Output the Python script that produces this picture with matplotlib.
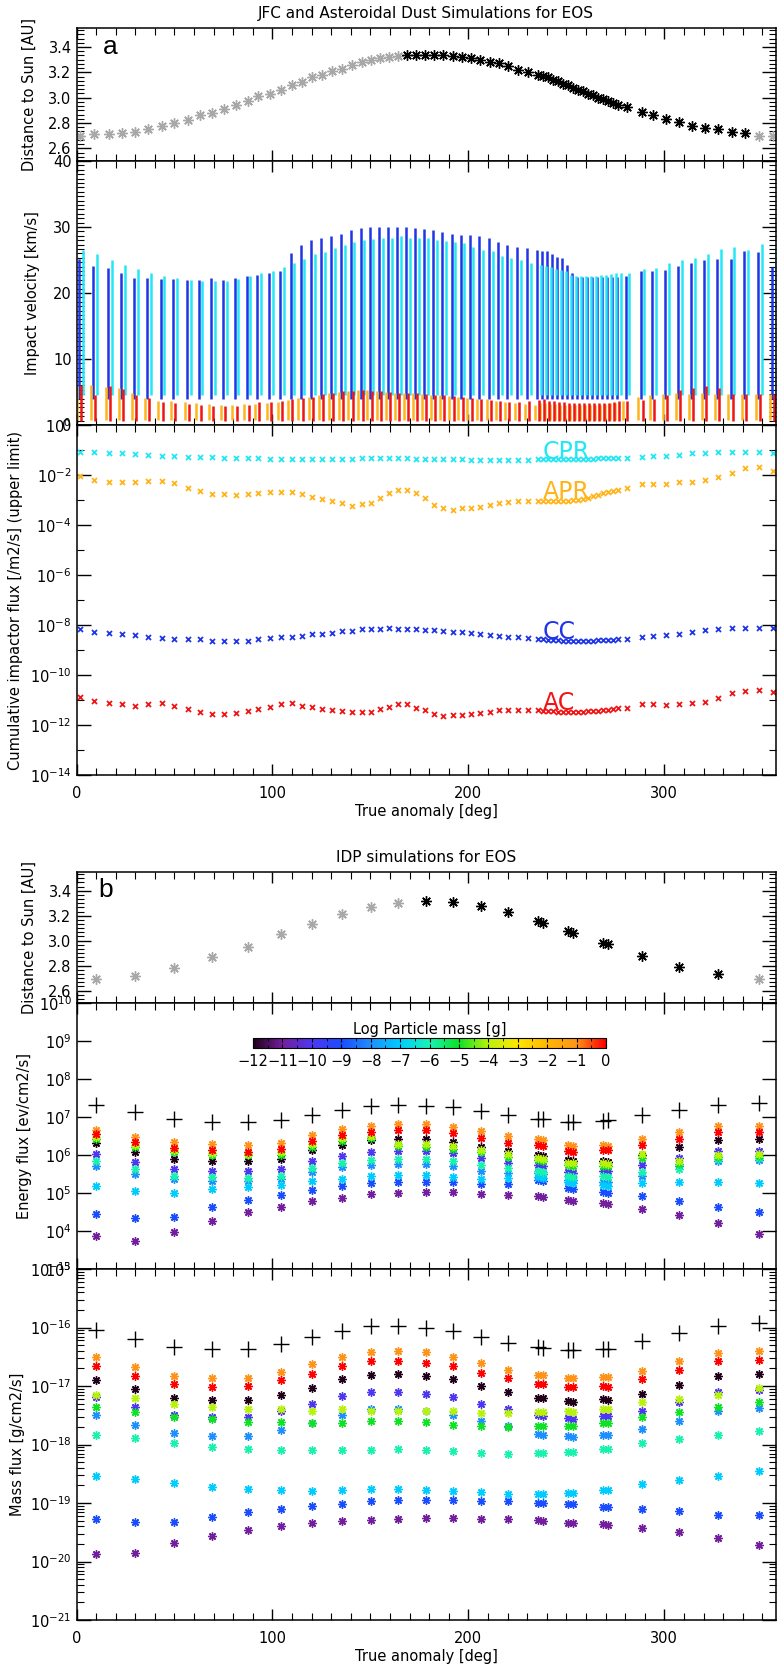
import matplotlib
matplotlib.use('Agg')
import matplotlib.pyplot as plt
import numpy as np
from matplotlib.colors import LinearSegmentedColormap, Normalize
from matplotlib.cm import ScalarMappable
from matplotlib.ticker import MultipleLocator, FixedLocator, AutoMinorLocator, NullLocator, NullFormatter
from matplotlib.transforms import ScaledTranslation

# ---------------- panel a : JFC / asteroidal dust, one value per time step
nu_a = [1.8, 9.1, 16.6, 23.4, 29.9, 36.7, 43.5, 49.9, 57.1, 63.0,
        69.3, 75.4, 81.4, 87.4, 92.8, 98.8, 104.4, 109.8, 115.0, 120.4,
        125.5, 130.6, 135.7, 140.5, 145.6, 150.2, 154.9, 159.7, 164.3,
        168.9, 173.3, 177.9, 182.7, 187.2, 192.0, 196.6, 201.2, 206.0, 211.1,
        215.7, 220.4, 225.5, 230.6, 235.7,
        238.3, 240.8, 243.4, 245.9, 248.5, 251.0, 253.6, 256.1, 258.7, 261.2,
        263.8, 266.4, 268.9, 271.5, 274.0, 276.6,
        280.8, 288.5, 294.4, 300.9, 307.5, 314.3, 320.8, 327.6, 334.4, 341.2, 348.4, 355.7]
dist_a = [2.70, 2.71, 2.71, 2.72, 2.73, 2.75, 2.78, 2.80, 2.82, 2.86,
          2.88, 2.91, 2.94, 2.97, 3.01, 3.03, 3.06, 3.10, 3.12, 3.16,
          3.18, 3.21, 3.23, 3.26, 3.28, 3.30, 3.31, 3.32, 3.33,
          3.34, 3.34, 3.34, 3.34, 3.34, 3.33, 3.32, 3.31, 3.30, 3.28,
          3.27, 3.25, 3.22, 3.20, 3.18,
          3.17, 3.16, 3.14, 3.13, 3.11, 3.10, 3.08, 3.06, 3.05, 3.03,
          3.02, 3.00, 2.99, 2.97, 2.96, 2.94,
          2.93, 2.89, 2.86, 2.83, 2.81, 2.78, 2.76, 2.75, 2.73, 2.72, 2.70, 2.70]
phase_start, phase_end = 166.0, 345.0   # black stars inside this range

# impact velocity ranges [km/s]
cc_vmin, cpr_vmin, apr_vmin, ac_vmin = 4.0, 4.5, 0.7, 0.6
cc_vmax = [25.1, 24.1, 23.8, 23.1, 22.3, 22.3, 22.1, 22.1, 22.0, 22.0,
           22.2, 22.0, 22.3, 22.6, 22.8, 23.1, 23.3, 26.0, 27.3, 28.1,
           28.4, 28.6, 29.0, 29.5, 29.8, 30.0, 30.0, 30.0, 30.0,
           30.0, 29.8, 29.7, 29.5, 29.3, 29.0, 28.8, 28.8, 28.6, 28.3,
           27.7, 27.3, 26.9, 26.8, 26.5,
           26.3, 26.3, 25.9, 25.5, 25.3, 24.2, 23.0, 22.5, 22.5, 22.5,
           22.5, 22.5, 22.5, 22.5, 22.5, 22.5,
           22.6, 23.3, 23.3, 23.5, 24.1, 24.6, 25.0, 25.2, 25.2, 26.4, 26.2, 24.0]
cpr_vmax = [26.5, 25.9, 25.0, 24.2, 23.7, 23.0, 22.6, 22.3, 22.0, 21.8,
            21.8, 21.8, 22.1, 22.6, 23.1, 23.3, 24.0, 24.6, 25.2, 25.9,
            26.2, 26.8, 27.2, 27.7, 28.0, 28.2, 28.4, 28.4, 28.6,
            28.4, 28.3, 28.3, 28.0, 27.9, 27.7, 27.5, 26.9, 26.5, 26.3,
            25.6, 25.3, 25.0, 24.5, 24.2,
            24.1, 24.0, 23.6, 23.5, 23.4, 22.8, 22.6, 22.6, 22.6, 22.6,
            22.6, 22.7, 22.7, 22.9, 23.0, 23.1,
            23.1, 23.6, 23.8, 24.5, 25.0, 25.3, 25.9, 26.7, 27.0, 26.5, 27.4, 26.5]
apr_vmax = [5.9, 6.06, 5.81, 5.56, 4.80, 4.04, 3.69, 3.69, 3.44, 3.28,
            3.18, 3.03, 3.03, 3.18, 3.18, 3.28, 3.54, 3.80, 4.04, 4.30,
            4.55, 4.80, 5.05, 5.20, 5.30, 5.30, 5.20, 5.05, 4.90,
            4.9, 4.8, 4.7, 4.6, 4.5, 4.4, 4.3, 4.1, 4.0, 3.9,
            3.7, 3.5, 3.4, 3.2, 3.0,
            3.3, 3.3, 3.2, 3.2, 3.1, 3.1, 3.0, 3.0, 3.0, 3.0,
            3.0, 3.1, 3.1, 3.2, 3.3, 3.4,
            3.6, 4.3, 4.5, 4.7, 4.8, 4.7, 4.8, 4.7, 4.7, 4.7, 4.7, 4.7]
ac_vmax = [6.0, 4.55, 5.96, 5.46, 4.55, 4.04, 3.54, 3.28, 3.13, 3.03,
           2.88, 2.88, 2.88, 3.03, 3.54, 3.44, 3.69, 3.89, 4.04, 4.20,
           4.70, 4.90, 5.10, 5.20, 5.30, 5.20, 5.10, 5.00, 4.90,
           4.9, 4.8, 4.7, 4.6, 4.5, 4.4, 4.3, 4.1, 4.0, 3.8,
           3.6, 3.5, 3.5, 3.6, 3.8,
           3.9, 3.7, 3.6, 3.5, 3.5, 3.4, 3.4, 3.4, 3.3, 3.3,
           3.3, 3.3, 3.3, 3.4, 3.5, 3.6,
           3.6, 3.8, 4.0, 4.6, 5.3, 5.55, 5.9, 5.55, 4.65, 4.65, 4.65, 4.65]

# cumulative impactor flux, log10 [/m2/s]
log_cpr = [-1.07, -1.07, -1.13, -1.13, -1.17, -1.20, -1.23, -1.23, -1.27, -1.27,
           -1.27, -1.31, -1.31, -1.31, -1.33, -1.36, -1.36, -1.36, -1.36, -1.36,
           -1.36, -1.36, -1.36, -1.36, -1.31, -1.31, -1.31, -1.31, -1.31,
           -1.31, -1.36, -1.36, -1.36, -1.36, -1.36, -1.36, -1.40, -1.40, -1.40,
           -1.40, -1.40, -1.40, -1.40, -1.37,
           -1.37, -1.37, -1.37, -1.37, -1.36, -1.36, -1.36, -1.35, -1.35, -1.34,
           -1.34, -1.33, -1.33, -1.32, -1.32, -1.31,
           -1.31, -1.27, -1.23, -1.23, -1.20, -1.13, -1.11, -1.09, -1.09, -1.09, -1.09, -1.11]
log_apr = [-2.04, -2.20, -2.27, -2.27, -2.27, -2.23, -2.23, -2.33, -2.51, -2.63,
           -2.76, -2.77, -2.80, -2.76, -2.73, -2.69, -2.67, -2.67, -2.76, -2.87,
           -2.96, -3.04, -3.13, -3.23, -3.17, -3.13, -2.91, -2.71, -2.60,
           -2.60, -2.73, -2.93, -3.20, -3.31, -3.40, -3.33, -3.33, -3.27, -3.20,
           -3.13, -3.07, -3.03, -3.03, -3.03,
           -3.05, -3.05, -3.05, -3.04, -3.03, -3.03, -3.01, -3.00, -2.97, -2.93,
           -2.85, -2.79, -2.73, -2.69, -2.64, -2.61,
           -2.53, -2.37, -2.37, -2.36, -2.29, -2.27, -2.20, -2.09, -1.93, -1.73, -1.69, -1.83]
log_cc = [-8.16, -8.27, -8.33, -8.36, -8.40, -8.49, -8.53, -8.57, -8.57, -8.57,
          -8.63, -8.63, -8.63, -8.63, -8.57, -8.53, -8.49, -8.47, -8.44, -8.36,
          -8.36, -8.31, -8.23, -8.23, -8.17, -8.17, -8.17, -8.13, -8.16,
          -8.17, -8.17, -8.20, -8.20, -8.23, -8.27, -8.27, -8.33, -8.36, -8.40,
          -8.44, -8.49, -8.49, -8.53, -8.57,
          -8.57, -8.59, -8.60, -8.61, -8.62, -8.63, -8.63, -8.63, -8.63, -8.63,
          -8.62, -8.61, -8.60, -8.59, -8.58, -8.57,
          -8.57, -8.49, -8.44, -8.40, -8.36, -8.27, -8.20, -8.16, -8.13, -8.13, -8.13, -8.13]
log_ac = [-10.87, -11.04, -11.13, -11.17, -11.23, -11.17, -11.13, -11.23, -11.36, -11.49,
          -11.57, -11.57, -11.53, -11.44, -11.36, -11.27, -11.17, -11.13, -11.23, -11.27,
          -11.36, -11.40, -11.44, -11.49, -11.49, -11.49, -11.36, -11.27, -11.16,
          -11.16, -11.31, -11.40, -11.57, -11.63, -11.60, -11.60, -11.57, -11.53, -11.47,
          -11.40, -11.40, -11.40, -11.40, -11.40,
          -11.42, -11.44, -11.45, -11.46, -11.47, -11.47, -11.47, -11.47, -11.46, -11.45,
          -11.44, -11.42, -11.40, -11.38, -11.35, -11.32,
          -11.31, -11.16, -11.16, -11.20, -11.16, -11.13, -11.07, -10.91, -10.73, -10.64, -10.60, -10.67]

# ---------------- panel b : IDP simulations
nu_b = [9.8, 29.9, 49.8, 69.3, 87.7, 104.4, 120.4, 135.7, 150.2, 164.3, 178.4, 192.3,
        206.3, 220.4, 235.7, 238.3, 251.0, 253.6, 268.9, 271.5, 288.8, 307.7, 327.6, 348.4]
dist_b = [2.69, 2.72, 2.78, 2.87, 2.95, 3.05, 3.13, 3.21, 3.27, 3.30, 3.32, 3.31,
          3.28, 3.23, 3.16, 3.14, 3.08, 3.06, 2.98, 2.97, 2.88, 2.79, 2.73, 2.69]

# energy flux, log10 [ev/cm2/s]; total and per log-mass bin
log_e_total = [7.31, 7.13, 6.96, 6.87, 6.87, 6.91, 7.06, 7.19, 7.29, 7.32, 7.29, 7.26,
               7.16, 7.05, 6.96, 6.95, 6.88, 6.86, 6.90, 6.92, 7.04, 7.19, 7.32, 7.36]
log_e_m1 = [6.65, 6.47, 6.34, 6.29, 6.27, 6.32, 6.53, 6.68, 6.77, 6.81, 6.81, 6.74,
            6.63, 6.50, 6.42, 6.40, 6.27, 6.25, 6.26, 6.24, 6.43, 6.61, 6.77, 6.77]
log_e_m0 = [6.56, 6.34, 6.18, 6.12, 6.09, 6.16, 6.36, 6.52, 6.61, 6.66, 6.66, 6.57,
            6.45, 6.32, 6.26, 6.24, 6.10, 6.08, 6.14, 6.12, 6.26, 6.43, 6.61, 6.61]
log_e_m4 = [6.47, 6.27, 6.12, 6.05, 6.03, 6.08, 6.28, 6.44, 6.50, 6.30, 6.29, 6.25,
            6.14, 6.02, 5.92, 5.90, 5.80, 5.78, 5.78, 5.76, 6.02, 5.85, 6.00, 6.02]
log_e_m5 = [6.43, 6.21, 6.07, 6.00, 5.99, 6.00, 6.22, 6.38, 6.45, 6.24, 6.21, 6.17,
            6.08, 5.96, 5.86, 5.84, 5.74, 5.72, 5.72, 5.70, 5.93, 5.77, 5.95, 5.97]
log_e_m12 = [6.32, 6.09, 5.90, 5.85, 5.85, 5.90, 6.12, 6.27, 6.39, 6.41, 6.41, 6.35,
             6.21, 6.10, 5.99, 5.97, 5.86, 5.84, 5.83, 5.81, 5.99, 6.21, 6.39, 6.41]
log_e_m10 = [6.03, 5.81, 5.63, 5.59, 5.59, 5.63, 5.85, 5.97, 6.08, 6.10, 6.10, 6.04,
             5.92, 5.80, 5.73, 5.71, 5.55, 5.53, 5.59, 5.57, 5.73, 5.92, 6.10, 6.10]
log_e_m6 = [5.85, 5.63, 5.45, 5.42, 5.40, 5.45, 5.65, 5.78, 5.86, 5.90, 5.90, 5.85,
            5.75, 5.65, 5.58, 5.56, 5.45, 5.43, 5.45, 5.43, 5.55, 5.62, 5.90, 5.92]
log_e_m8 = [5.72, 5.50, 5.37, 5.32, 5.32, 5.37, 5.55, 5.68, 5.74, 5.77, 5.77, 5.71,
            5.59, 5.53, 5.53, 5.50, 5.35, 5.33, 5.30, 5.28, 5.45, 5.70, 5.85, 5.88]
log_e_m7 = [5.19, 5.06, 5.01, 5.10, 5.15, 5.21, 5.32, 5.37, 5.46, 5.48, 5.48, 5.42,
            5.37, 5.39, 5.42, 5.40, 5.28, 5.26, 5.20, 5.18, 5.27, 5.28, 5.28, 5.26]
log_e_m9 = [4.46, 4.33, 4.38, 4.62, 4.82, 4.94, 5.08, 5.18, 5.27, 5.30, 5.30, 5.28,
            5.24, 5.24, 5.33, 5.31, 5.13, 5.11, 5.02, 5.00, 4.91, 4.78, 4.64, 4.49]
log_e_m11 = [3.87, 3.73, 3.97, 4.26, 4.50, 4.64, 4.79, 4.86, 4.98, 5.00, 5.02, 5.02,
             4.98, 4.95, 4.91, 4.90, 4.82, 4.80, 4.74, 4.72, 4.58, 4.42, 4.22, 3.91]

# mass flux, log10 [g/cm2/s]
log_m_total = [-16.04, -16.19, -16.33, -16.36, -16.36, -16.29, -16.17, -16.06, -15.98, -15.98, -16.00, -16.06,
               -16.17, -16.27, -16.34, -16.35, -16.38, -16.39, -16.36, -16.36, -16.23, -16.10, -15.98, -15.93]
log_m_m1 = [-16.50, -16.67, -16.83, -16.86, -16.86, -16.76, -16.63, -16.50, -16.42, -16.40, -16.42, -16.50,
            -16.61, -16.72, -16.81, -16.82, -16.86, -16.87, -16.84, -16.85, -16.75, -16.58, -16.44, -16.40]
log_m_m0 = [-16.66, -16.83, -16.97, -17.01, -17.00, -16.90, -16.80, -16.66, -16.58, -16.57, -16.60, -16.65,
            -16.77, -16.87, -16.96, -16.97, -17.01, -17.02, -17.00, -17.01, -16.88, -16.73, -16.58, -16.56]
log_m_m12 = [-16.89, -17.05, -17.21, -17.24, -17.24, -17.15, -17.03, -16.88, -16.81, -16.80, -16.83, -16.88,
             -17.00, -17.11, -17.20, -17.21, -17.26, -17.27, -17.23, -17.24, -17.13, -16.99, -16.83, -16.79]
log_m_m4 = [-17.15, -17.20, -17.30, -17.36, -17.40, -17.39, -17.42, -17.40, -17.42, -17.42, -17.42, -17.42,
            -17.47, -17.47, -17.44, -17.45, -17.43, -17.44, -17.39, -17.40, -17.27, -17.23, -17.16, -17.03]
log_m_m10 = [-17.19, -17.36, -17.49, -17.53, -17.53, -17.43, -17.30, -17.17, -17.10, -17.10, -17.13, -17.19,
             -17.30, -17.39, -17.50, -17.51, -17.55, -17.56, -17.51, -17.52, -17.42, -17.27, -17.10, -17.07]
log_m_m5 = [-17.36, -17.44, -17.53, -17.56, -17.62, -17.62, -17.64, -17.64, -17.60, -17.60, -17.62, -17.66,
            -17.68, -17.70, -17.68, -17.69, -17.68, -17.69, -17.63, -17.64, -17.53, -17.44, -17.36, -17.28]
log_m_m8 = [-17.50, -17.66, -17.80, -17.85, -17.85, -17.76, -17.63, -17.49, -17.40, -17.39, -17.43, -17.49,
            -17.59, -17.68, -17.82, -17.83, -17.86, -17.87, -17.83, -17.84, -17.74, -17.59, -17.43, -17.38]
log_m_m6 = [-17.83, -17.89, -17.97, -18.05, -18.07, -18.10, -18.10, -18.10, -18.09, -18.07, -18.10, -18.11,
            -18.15, -18.17, -18.14, -18.14, -18.13, -18.13, -18.07, -18.08, -17.98, -17.90, -17.83, -17.77]
log_m_m7 = [-18.53, -18.59, -18.65, -18.72, -18.76, -18.78, -18.79, -18.78, -18.76, -18.76, -18.78, -18.80,
            -18.82, -18.85, -18.85, -18.85, -18.83, -18.83, -18.77, -18.77, -18.68, -18.60, -18.53, -18.46]
log_m_m9 = [-19.28, -19.32, -19.32, -19.24, -19.15, -19.11, -19.05, -19.01, -18.96, -18.95, -18.95, -18.95,
            -18.97, -18.97, -19.00, -19.00, -19.02, -19.02, -19.06, -19.06, -19.11, -19.13, -19.20, -19.20]
log_m_m11 = [-19.88, -19.86, -19.69, -19.56, -19.46, -19.40, -19.35, -19.31, -19.29, -19.27, -19.25, -19.25,
             -19.27, -19.27, -19.29, -19.30, -19.34, -19.35, -19.36, -19.37, -19.42, -19.50, -19.59, -19.72]

mass_bins = [-12, -11, -10, -9, -8, -7, -6, -5, -4, -1, 0]
energy_by_bin = [log_e_m12, log_e_m11, log_e_m10, log_e_m9, log_e_m8, log_e_m7,
                 log_e_m6, log_e_m5, log_e_m4, log_e_m1, log_e_m0]
mass_by_bin = [log_m_m12, log_m_m11, log_m_m10, log_m_m9, log_m_m8, log_m_m7,
               log_m_m6, log_m_m5, log_m_m4, log_m_m1, log_m_m0]

# IDL-like rainbow table
cmap = LinearSegmentedColormap.from_list('idl_rainbow', [
    (0.0, (0.13, 0.0, 0.10)), (0.083, (0.45, 0.12, 0.62)), (0.167, (0.30, 0.22, 0.95)),
    (0.25, (0.10, 0.30, 1.0)), (0.333, (0.12, 0.56, 1.0)), (0.417, (0.0, 0.80, 1.0)),
    (0.5, (0.10, 0.95, 0.70)), (0.583, (0.05, 0.88, 0.15)), (0.667, (0.72, 0.95, 0.05)),
    (0.75, (1.0, 0.90, 0.0)), (0.833, (1.0, 0.72, 0.0)), (0.917, (1.0, 0.58, 0.10)),
    (1.0, (1.0, 0.0, 0.0))])
norm = Normalize(-12, 0)

W, H = 777, 1664
fig = plt.figure(figsize=(W / 100, H / 100), dpi=100)
plt.rcParams['font.family'] = 'DejaVu Sans'
plt.rcParams['mathtext.default'] = 'regular'

L, R = 76.5, 776.0


def add_ax(top, bottom):
    return fig.add_axes([L / W, 1 - bottom / H, (R - L) / W, (bottom - top) / H])


def frame(ax, xlabels=False):
    ax.set_xlim(0, 357)
    ax.xaxis.set_major_locator(MultipleLocator(100))
    ax.xaxis.set_minor_locator(MultipleLocator(10))
    ax.tick_params(which='both', direction='in', top=True, right=True, labelsize=10.5)
    ax.tick_params(axis='y', which='major', length=10, width=1)
    ax.tick_params(axis='y', which='minor', length=5, width=0.8)
    ax.tick_params(axis='x', which='major', length=8, width=1, pad=8)
    ax.tick_params(axis='x', which='minor', length=5, width=0.8)
    if not xlabels:
        ax.tick_params(axis='x', labelbottom=False)
    for s in ax.spines.values():
        s.set_linewidth(1.1)


def px_off(px):
    return ScaledTranslation(px / 100.0, 0, fig.dpi_scale_trans)


star = (8, 2, 0)

# ---------- a1 distance
ax = add_ax(28, 161)
frame(ax)
nu = np.array(nu_a)
d = np.array(dist_a)
inside = (nu > phase_start) & (nu < phase_end)
ax.plot(nu[~inside], d[~inside], ls='none', marker=star, ms=7.5, mew=1.0, color='#a8a8a8')
ax.plot(nu[inside], d[inside], ls='none', marker=star, ms=7.5, mew=1.0, color='black')
ax.set_ylim(2.5, 3.55)
ax.yaxis.set_major_locator(FixedLocator([2.6, 2.8, 3.0, 3.2, 3.4]))
ax.yaxis.set_minor_locator(AutoMinorLocator(6))
ax.set_ylabel('Distance to Sun [AU]', fontsize=10.5)
ax.yaxis.set_label_coords(-0.057, 0.5)
ax.text(0.048, 0.857, 'a', transform=ax.transAxes, fontsize=19, family='Liberation Sans',
        ha='center', va='center')
ax.set_title('JFC and Asteroidal Dust Simulations for EOS', fontsize=11, pad=7)

# ---------- a2 impact velocity
ax = add_ax(161, 425)
frame(ax)
for vmin, vmax, col, off in [(cc_vmin, cc_vmax, '#1f35e6', -1.0),
                             (cpr_vmin, cpr_vmax, '#22e8f5', 2.5),
                             (apr_vmin, apr_vmax, '#ffb41a', -3.5),
                             (ac_vmin, ac_vmax, '#f01414', 0.8)]:
    ax.vlines(nu_a, vmin, vmax, colors=col, lw=1.8, transform=ax.transData + px_off(off))
ax.set_ylim(0, 40)
ax.yaxis.set_major_locator(MultipleLocator(10))
ax.yaxis.set_minor_locator(AutoMinorLocator(15))
ax.set_ylabel('Impact velocity [km/s]', fontsize=10.5)
ax.yaxis.set_label_coords(-0.052, 0.5)

# ---------- a3 cumulative flux
ax = add_ax(425, 775)
frame(ax, xlabels=True)
ax.set_yscale('log')
for vals, col in [(log_cpr, '#22e8f5'), (log_apr, '#ffb41a'), (log_cc, '#1f35e6'), (log_ac, '#f01414')]:
    ax.plot(nu_a, 10.0 ** np.array(vals), ls='none', marker='x', ms=3.6, mew=1.3, color=col)
ax.set_ylim(1e-14, 1)
ax.yaxis.set_major_locator(FixedLocator([10.0 ** k for k in range(-14, 1, 2)]))
ax.yaxis.set_minor_locator(FixedLocator([10.0 ** k for k in range(-13, 0, 2)]))
ax.yaxis.set_minor_formatter(NullFormatter())
ax.set_ylabel('Cumulative impactor flux [/m2/s] (upper limit)', fontsize=10.5)
ax.yaxis.set_label_coords(-0.077, 0.5)
ax.set_xlabel('True anomaly [deg]', fontsize=10.5, labelpad=2)
for txt, y, col in [('CPR', -1.08, '#22e8f5'), ('APR', -2.67, '#ffb41a'),
                    ('CC', -8.27, '#1f35e6'), ('AC', -11.13, '#f01414')]:
    ax.text(238, 10.0 ** y, txt, color=col, fontsize=17, ha='left', va='center')

# ---------- b1 distance
ax = add_ax(872, 1003)
frame(ax)
nu = np.array(nu_b)
d = np.array(dist_b)
inside = (nu > phase_start) & (nu < phase_end)
ax.plot(nu[~inside], d[~inside], ls='none', marker=star, ms=7.5, mew=1.0, color='#a8a8a8')
ax.plot(nu[inside], d[inside], ls='none', marker=star, ms=7.5, mew=1.0, color='black')
ax.set_ylim(2.5, 3.55)
ax.yaxis.set_major_locator(FixedLocator([2.6, 2.8, 3.0, 3.2, 3.4]))
ax.yaxis.set_minor_locator(AutoMinorLocator(6))
ax.set_ylabel('Distance to Sun [AU]', fontsize=10.5)
ax.yaxis.set_label_coords(-0.057, 0.5)
ax.text(0.041, 0.863, 'b', transform=ax.transAxes, fontsize=19, family='Liberation Sans',
        ha='center', va='center')
ax.set_title('IDP simulations for EOS', fontsize=11, pad=7)

# ---------- b2 energy flux
ax = add_ax(1003, 1269)
frame(ax)
ax.set_yscale('log')
for mb, vals in zip(mass_bins, energy_by_bin):
    ax.plot(nu_b, 10.0 ** np.array(vals), ls='none', marker=star, ms=6, mew=1.0,
            color=cmap(norm(mb)))
ax.plot(nu_b, 10.0 ** np.array(log_e_total), ls='none', marker='+', ms=11, mew=1.0, color='black')
ax.set_ylim(1e3, 1e10)
ax.yaxis.set_major_locator(FixedLocator([10.0 ** k for k in range(3, 11)]))
ax.yaxis.set_minor_locator(NullLocator())
ax.set_ylabel('Energy flux [ev/cm2/s]', fontsize=10.5)
ax.yaxis.set_label_coords(-0.064, 0.5)

cax = fig.add_axes([253 / W, 1 - 1048 / H, 353 / W, 10 / H])
cb = fig.colorbar(ScalarMappable(norm=norm, cmap=cmap), cax=cax, orientation='horizontal',
                  ticks=list(range(-12, 1)))
cb.outline.set_linewidth(0.8)
cax.tick_params(which='both', direction='in', top=True, bottom=True, length=3, labelsize=10.5, pad=4)
cax.xaxis.set_minor_locator(MultipleLocator(0.5))
cax.tick_params(which='minor', length=2)
cax.set_title('Log Particle mass [g]', fontsize=10.5, pad=3)

# ---------- b3 mass flux
ax = add_ax(1269, 1620)
frame(ax, xlabels=True)
ax.set_yscale('log')
for mb, vals in zip(mass_bins, mass_by_bin):
    ax.plot(nu_b, 10.0 ** np.array(vals), ls='none', marker=star, ms=6, mew=1.0,
            color=cmap(norm(mb)))
ax.plot(nu_b, 10.0 ** np.array(log_m_total), ls='none', marker='+', ms=11, mew=1.0, color='black')
ax.set_ylim(1e-21, 1e-15)
ax.yaxis.set_major_locator(FixedLocator([10.0 ** k for k in range(-21, -14)]))
ax.yaxis.set_minor_locator(FixedLocator([m * 10.0 ** k for k in range(-21, -15) for m in range(2, 10)]))
ax.yaxis.set_minor_formatter(NullFormatter())
ax.set_ylabel('Mass flux [g/cm2/s]', fontsize=10.5)
ax.yaxis.set_label_coords(-0.074, 0.5)
ax.set_xlabel('True anomaly [deg]', fontsize=10.5, labelpad=2)

fig.savefig('out.png', dpi=100)
